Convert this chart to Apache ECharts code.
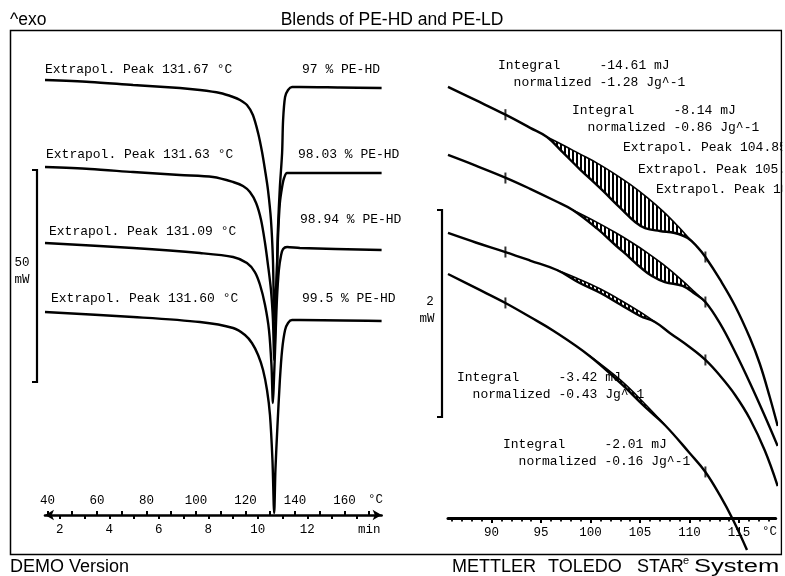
<!DOCTYPE html>
<html>
<head>
<meta charset="utf-8">
<script src="https://cdn.jsdelivr.net/npm/echarts@6/dist/echarts.min.js"></script>
<style>
  html, body { margin: 0; padding: 0; background: #fff; }
  #c { width: 785px; height: 576px; }
</style>
</head>
<body>
<div id="c"></div>
<script>
// ---------- Overview: DSC heating curves (heat flow in mW, stacked offsets) vs temperature in °C
const pe97T   = [39.0, 57.2, 74.6, 93.5, 101.6, 109.7, 115.0, 117.8, 120.6, 123.0, 125.1, 126.7, 127.9, 129.1, 130.3, 131.1, 131.67, 132.1, 132.7, 133.1, 133.9, 134.8, 135.2, 136.0, 137.2, 138.8, 142.0, 158.2, 175.0];
const pe97mW  = [-10.61, -11.08, -11.79, -12.50, -12.97, -13.68, -14.62, -15.33, -16.51, -18.87, -23.11, -27.59, -31.84, -36.56, -43.63, -53.07, -67.22, -62.50, -55.42, -45.99, -35.85, -27.83, -20.05, -14.62, -12.97, -12.26, -12.26, -12.38, -12.50];

const pe9803T  = [39.0, 57.2, 74.6, 93.5, 106.9, 115.0, 119.0, 121.8, 124.3, 126.3, 127.9, 129.1, 130.3, 131.1, 131.63, 132.0, 132.5, 133.1, 133.9, 134.8, 135.6, 136.8, 142.0, 175.0];
const pe9803mW = [-31.13, -31.60, -32.31, -33.02, -33.49, -34.67, -35.61, -37.03, -39.62, -43.63, -49.06, -54.25, -60.14, -67.22, -76.65, -69.58, -60.14, -48.35, -39.62, -35.85, -33.73, -32.55, -32.55, -32.55];

const pe9894T  = [39.0, 74.6, 101.6, 115.0, 120.6, 123.8, 125.9, 127.9, 129.5, 130.5, 131.09, 131.5, 132.1, 132.7, 133.5, 134.4, 135.2, 136.8, 142.0, 175.0];
const pe9894mW = [-49.06, -50.24, -51.42, -52.36, -53.77, -55.90, -58.96, -63.68, -69.58, -77.83, -86.79, -81.37, -71.93, -62.50, -55.42, -51.89, -50.47, -50.00, -50.24, -50.71];

const pe995T  = [39.0, 74.6, 101.6, 115.0, 119.8, 122.6, 125.1, 127.1, 128.7, 129.9, 130.9, 131.60, 132.1, 132.9, 133.9, 134.8, 136.0, 137.2, 138.8, 142.0, 175.0];
const pe995mW = [-65.33, -66.51, -67.69, -69.10, -70.75, -72.64, -75.47, -79.01, -83.73, -89.62, -100.24, -112.74, -102.59, -92.45, -81.37, -74.29, -69.58, -67.92, -67.22, -67.22, -67.45];

const blendContent = ['97', '98.03', '98.94', '99.5'];           // % PE-HD
const extrapolPeak = [131.67, 131.63, 131.09, 131.60];           // °C

const tempTicks  = [40, 60, 80, 100, 120, 140, 160];
const tempMinor  = [40, 50, 60, 70, 80, 90, 100, 110, 120, 130, 140, 150, 160, 170];
const timeTicks  = [2, 4, 6, 8, 10, 12];
const timeMinor  = [2, 3, 4, 5, 6, 7, 8, 9, 10, 11, 12, 13, 14];
const overviewScale = [-31.84, -81.84];                          // 50 mW bar

// ---------- Detail: 86–119 °C, pre-melting region with integrated areas
const zA_T  = [85.6, 88.4, 91.4, 93.9, 95.6, 97.2, 98.9, 101.0, 103.0, 104.5, 105.5, 107.0, 108.5, 109.8, 110.8, 111.6, 113.1, 114.6, 116.1, 117.1, 118.1, 118.9];
const zA_mW = [-0.502, -0.630, -0.770, -0.897, -0.986, -1.135, -1.295, -1.483, -1.671, -1.807, -1.865, -1.894, -1.913, -1.961, -2.049, -2.145, -2.367, -2.618, -2.928, -3.179, -3.498, -3.778];
const zA_baseT  = [95.6, 97.2, 98.9, 100.7, 102.5, 104.0, 105.7, 107.3, 109.0, 110.0, 110.8];
const zA_baseMW = [-0.986, -1.063, -1.149, -1.240, -1.346, -1.444, -1.569, -1.702, -1.865, -1.970, -2.049];

const zB_T  = [85.6, 88.4, 91.5, 93.9, 96.4, 98.2, 100.7, 102.5, 104.0, 105.0, 106.2, 107.5, 109.3, 110.5, 111.6, 113.1, 114.6, 116.1, 117.6, 118.9];
const zB_mW = [-1.159, -1.262, -1.382, -1.486, -1.602, -1.691, -1.874, -2.029, -2.155, -2.242, -2.329, -2.387, -2.425, -2.498, -2.580, -2.792, -3.063, -3.362, -3.681, -3.971];
const zB_baseT  = [98.2, 100.7, 102.5, 104.0, 105.7, 107.3, 109.3, 110.5, 111.6];
const zB_baseMW = [-1.691, -1.813, -1.909, -1.995, -2.102, -2.215, -2.375, -2.482, -2.580];

const zC_T  = [85.6, 88.4, 91.4, 93.9, 96.6, 98.9, 101.0, 103.0, 105.0, 106.5, 108.0, 110.0, 111.6, 113.1, 114.6, 116.1, 117.6, 118.9];
const zC_mW = [-1.913, -2.005, -2.097, -2.179, -2.271, -2.396, -2.493, -2.604, -2.715, -2.773, -2.879, -3.015, -3.140, -3.295, -3.478, -3.710, -4.015, -4.358];
const zC_baseT  = [96.6, 98.9, 101.0, 103.0, 105.0, 106.5];
const zC_baseMW = [-2.271, -2.362, -2.454, -2.560, -2.676, -2.773];

const zD_T  = [85.6, 88.4, 91.4, 93.9, 96.2, 99.9, 103.0, 105.5, 107.5, 110.0, 111.6, 113.1, 114.4, 115.8];
const zD_mW = [-2.309, -2.444, -2.589, -2.725, -2.855, -3.101, -3.362, -3.594, -3.768, -4.039, -4.222, -4.454, -4.686, -4.976];
const zD_baseT  = [99.9, 103.0, 105.5, 107.5];
const zD_baseMW = [-3.101, -3.333, -3.565, -3.768];

const limitT   = [91.4, 111.6];                                  // integration limits
const limitA   = [-0.770, -2.145];
const limitB   = [-1.382, -2.580];
const limitC   = [-2.097, -3.140];
const limitD   = [-2.589, -4.222];

const integralMJ   = ['-14.61', '-8.14', '-3.42', '-2.01'];
const normalizedJg = ['-1.28', '-0.86', '-0.43', '-0.16'];
const detailPeaks  = ['Extrapol. Peak 104.85', 'Extrapol. Peak 105.', 'Extrapol. Peak 10'];
const detailTicks  = [90, 95, 100, 105, 110, 115];
const detailMinor  = [86, 87, 88, 89, 90, 91, 92, 93, 94, 95, 96, 97, 98, 99, 100, 101, 102, 103, 104, 105, 106, 107, 108, 109, 110, 111, 112, 113, 114, 115, 116, 117, 118];
const detailScale = [-1.691, -3.691];                            // 2 mW bar

// ---------- drawing
const MONO = '"Liberation Mono", "DejaVu Sans Mono", monospace';
const SANS = '"Liberation Sans", Arial, sans-serif';
const INK = '#000';

// vertical hatch pattern for integrated areas
const hatchTile = document.createElement('canvas');
hatchTile.width = 4; hatchTile.height = 4;
(function () {
  const g = hatchTile.getContext('2d');
  g.fillStyle = '#000';
  g.fillRect(0, 0, 2, 4);
})();

function curve(T, W, xi, yi, width, smooth) {
  return {
    type: 'line', xAxisIndex: xi, yAxisIndex: yi,
    data: T.map((t, i) => [t, W[i]]),
    showSymbol: false, symbol: 'none', smooth: smooth,
    clip: false, silent: true, z: 3,
    lineStyle: { color: INK, width: width }
  };
}

const areas = [
  { bT: zA_baseT, bW: zA_baseMW, cT: zA_T, cW: zA_mW },
  { bT: zB_baseT, bW: zB_baseMW, cT: zB_T, cW: zB_mW },
  { bT: zC_baseT, bW: zC_baseMW, cT: zC_T, cW: zC_mW },
  { bT: zD_baseT, bW: zD_baseMW, cT: zD_T, cW: zD_mW }
];

function txt(x, y, s, size, fam, align) {
  return {
    type: 'text', x: x, y: y, z: 1, silent: true,
    style: { text: s, font: size + 'px ' + fam, fill: INK, textAlign: align || 'left', textVerticalAlign: 'middle' }
  };
}

function hiddenY(min, max, grid) {
  return { type: 'value', gridIndex: grid, min: min, max: max, show: false };
}

const axisFont = { fontFamily: MONO, fontSize: 12.5, color: INK };

const systemWord = txt(694, 567, 'System', 18, SANS);
systemWord.scaleX = 1.42;

const graphic = [
  { type: 'rect', z: 0, silent: true, shape: { x: 10.5, y: 30.5, width: 771, height: 524 },
    style: { fill: 'none', stroke: INK, lineWidth: 1.5 } },
  txt(10, 20, '^exo', 17.5, SANS),
  txt(392, 20, 'Blends of PE-HD and PE-LD', 17.5, SANS, 'center'),
  txt(10, 567, 'DEMO Version', 18, SANS),
  txt(452, 567, 'METTLER', 18, SANS),
  txt(548, 567, 'TOLEDO', 18, SANS),
  txt(637, 567, 'STAR', 18, SANS),
  txt(683, 561, 'e', 11, SANS),
  systemWord,
  // overview labels
  txt(22, 263, '50', 12.5, MONO, 'center'),
  txt(22, 280, 'mW', 12.5, MONO, 'center'),
  txt(368, 500, '°C', 12.5, MONO),
  txt(358, 530, 'min', 12.5, MONO),
  // detail labels
  txt(430, 302, '2', 12.5, MONO, 'center'),
  txt(427, 319, 'mW', 12.5, MONO, 'center'),
  txt(762, 532, '°C', 12.5, MONO)
];

const peakLabelPos = [[45, 70], [46, 155], [49, 232], [51, 299]];
const contentLabelPos = [[302, 70], [298, 155], [300, 220], [302, 299]];
extrapolPeak.forEach((t, i) => {
  graphic.push(txt(peakLabelPos[i][0], peakLabelPos[i][1], 'Extrapol. Peak ' + t.toFixed(2) + ' °C', 13, MONO));
  graphic.push(txt(contentLabelPos[i][0], contentLabelPos[i][1], blendContent[i] + ' % PE-HD', 13, MONO));
});

const integralPos = [[498, 66], [572, 111], [457, 378], [503, 445]];
integralMJ.forEach((v, i) => {
  const [x, y] = integralPos[i];
  graphic.push(txt(x, y, 'Integral     ' + v + ' mJ', 13, MONO));
  graphic.push(txt(x, y + 17, '  normalized ' + normalizedJg[i] + ' Jg^-1', 13, MONO));
});
const peakNotePos = [[623, 148], [638, 170], [656, 190]];
detailPeaks.forEach((s, i) => graphic.push(txt(peakNotePos[i][0], peakNotePos[i][1], s, 13, MONO)));

// frame edge hides text running past the right border
graphic.push({ type: 'rect', z: 5, silent: true, shape: { x: 782.3, y: 0, width: 10, height: 576 }, style: { fill: '#fff' } });

function scaleBar(xi, yi, values, px) {
  return {
    type: 'custom', xAxisIndex: xi, yAxisIndex: yi, clip: false, silent: true, z: 3,
    data: [values],
    renderItem: function (params, api) {
      const top = api.coord([100, values[0]])[1];
      const bot = api.coord([100, values[1]])[1];
      return {
        type: 'polyline',
        shape: { points: [[px - 5, top], [px, top], [px, bot], [px - 5, bot]] },
        style: { stroke: INK, lineWidth: 2.2, fill: null }
      };
    }
  };
}

const option = {
  animation: false,
  backgroundColor: '#fff',
  graphic: graphic,
  grid: [
    { left: 45, top: 35, width: 336.6, height: 480 },   // overview, temperature axis
    { left: 45, top: 35, width: 336.6, height: 480 },   // overview, time axis
    { left: 448, top: 35, width: 327.7, height: 483 },  // detail, major ticks
    { left: 448, top: 35, width: 327.7, height: 483 }   // detail, minor ticks
  ],
  xAxis: [
    {
      type: 'value', gridIndex: 0, min: 39, max: 175, position: 'bottom',
      splitLine: { show: false },
      axisLine: { show: true, onZero: false, symbol: ['arrow', 'arrow'], symbolSize: [8, 9], lineStyle: { color: INK, width: 2.6 } },
      axisTick: { show: true, inside: true, length: 4, customValues: tempMinor, lineStyle: { color: INK, width: 2 } },
      axisLabel: { show: true, inside: true, margin: 8, customValues: tempTicks, ...axisFont }
    },
    {
      type: 'value', gridIndex: 1, min: 1.4, max: 15, position: 'bottom',
      splitLine: { show: false },
      axisLine: { show: false, onZero: false },
      axisTick: { show: true, inside: false, length: 4, customValues: timeMinor, lineStyle: { color: INK, width: 2 } },
      axisLabel: { show: true, margin: 8, customValues: timeTicks, ...axisFont }
    },
    {
      type: 'value', gridIndex: 2, min: 85.6, max: 118.7, position: 'bottom',
      splitLine: { show: false },
      axisLine: { show: true, onZero: false, lineStyle: { color: INK, width: 3 } },
      axisTick: { show: true, inside: false, length: 5, customValues: detailTicks, lineStyle: { color: INK, width: 2 } },
      axisLabel: { show: true, margin: 8, customValues: detailTicks, ...axisFont }
    },
    {
      type: 'value', gridIndex: 3, min: 85.6, max: 118.7, position: 'bottom',
      splitLine: { show: false },
      axisLine: { show: false, onZero: false },
      axisTick: { show: true, inside: false, length: 3.5, customValues: detailMinor, lineStyle: { color: INK, width: 1.8 } },
      axisLabel: { show: false }
    }
  ],
  yAxis: [
    hiddenY(-113.2, 0, 0),
    hiddenY(-113.2, 0, 1),
    hiddenY(-4.667, 0, 2),
    hiddenY(-4.667, 0, 3)
  ],
  series: [
    curve(pe97T, pe97mW, 0, 0, 2.4, 0.3),
    curve(pe9803T, pe9803mW, 0, 0, 2.4, 0.3),
    curve(pe9894T, pe9894mW, 0, 0, 2.4, 0.3),
    curve(pe995T, pe995mW, 0, 0, 2.4, 0.3),
    scaleBar(0, 0, overviewScale, 37),

    {
      type: 'custom', xAxisIndex: 2, yAxisIndex: 2, clip: false, silent: true, z: 2,
      data: areas.map((a, i) => [i]),
      renderItem: function (params, api) {
        const a = areas[params.dataIndex];
        const pts = a.bT.map((t, k) => api.coord([t, a.bW[k]]));
        const lo = a.bT[0], hi = a.bT[a.bT.length - 1];
        for (let k = a.cT.length - 1; k >= 0; k--) {
          if (a.cT[k] >= lo && a.cT[k] <= hi) pts.push(api.coord([a.cT[k], a.cW[k]]));
        }
        return {
          type: 'polygon', shape: { points: pts },
          style: { fill: { image: hatchTile, repeat: 'repeat' }, stroke: null }
        };
      }
    },
    curve(zA_T, zA_mW, 2, 2, 2.4, 0.4),
    curve(zB_T, zB_mW, 2, 2, 2.4, 0.4),
    curve(zC_T, zC_mW, 2, 2, 2.4, 0.4),
    curve(zD_T, zD_mW, 2, 2, 2.4, 0.4),
    curve(zA_baseT, zA_baseMW, 2, 2, 1.6, 0.4),
    curve(zB_baseT, zB_baseMW, 2, 2, 1.6, 0.4),
    curve(zC_baseT, zC_baseMW, 2, 2, 1.6, 0.4),
    curve(zD_baseT, zD_baseMW, 2, 2, 1.6, 0.4),
    {
      type: 'scatter', xAxisIndex: 2, yAxisIndex: 2, symbol: 'rect', symbolSize: [2, 11],
      silent: true, z: 4, clip: false, itemStyle: { color: INK },
      data: [limitA, limitB, limitC, limitD].flatMap(L => limitT.map((t, k) => [t, L[k]]))
    },
    scaleBar(2, 2, detailScale, 442)
  ]
};

const chart = echarts.init(document.getElementById('c'), null, { renderer: 'canvas' });
chart.setOption(option);
</script>
</body>
</html>
